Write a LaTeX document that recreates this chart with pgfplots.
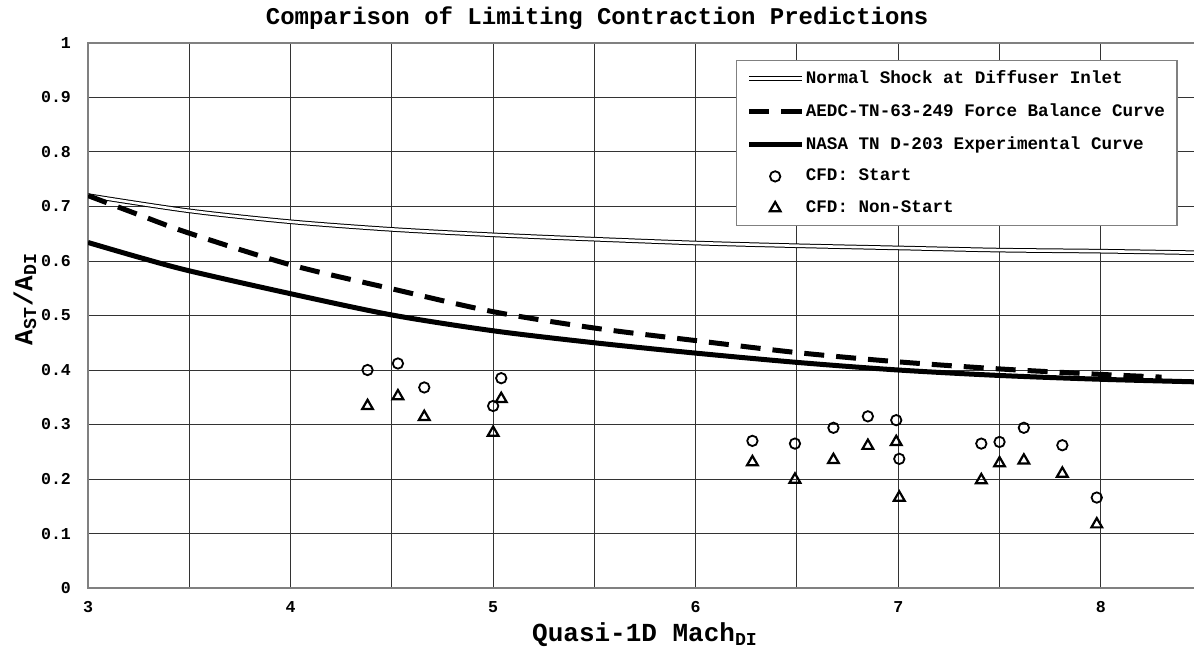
\documentclass[border=0pt]{standalone}
\usepackage{fontspec}
\setmainfont{Liberation Mono}
\usepackage{pgfplots}
\pgfplotsset{compat=1.18}
\begin{document}
\bfseries
\begin{tikzpicture}
\begin{axis}[
    scale only axis,
    width=557pt, height=272.5pt,
    xmin=3, xmax=8.5, ymin=0, ymax=1,
    xtick={3,4,5,6,7,8},
    minor xtick={3.5,4.5,5.5,6.5,7.5,8.5},
    ytick={0,0.1,0.2,0.3,0.4,0.5,0.6,0.7,0.8,0.9,1},
    yticklabels={0,0.1,0.2,0.3,0.4,0.5,0.6,0.7,0.8,0.9,1},
    grid=both,
    major grid style={black!80, line width=0.5pt},
    minor grid style={black!80, line width=0.5pt},
    major tick length=0pt, minor tick length=0pt,
    axis line style={gray, line width=0.7pt},
    /pgf/number format/assume math mode=true,
    ticklabel style={font=\bfseries\fontsize{8.3}{9}\selectfont},
    xticklabel style={yshift=-3pt},
    yticklabel style={xshift=-5pt},
    title={Comparison of Limiting Contraction Predictions},
    every axis title/.style={font=\bfseries\fontsize{12}{14}\selectfont, at={(axis description cs:0.457,1.046)}, anchor=center},
    xlabel={Quasi-1D Mach\textsubscript{DI}},
    ylabel={A\textsubscript{ST}/A\textsubscript{DI}},
    every axis x label/.style={at={(axis description cs:0.5,-0.086)}, anchor=center, font=\bfseries\fontsize{13}{15}\selectfont},
    every axis y label/.style={at={(axis description cs:-0.0566,0.53)}, rotate=90, anchor=center, font=\bfseries\fontsize{13}{15}\selectfont},
    legend cell align=left,
    legend style={at={(axis description cs:0.978,0.969)}, anchor=north east, draw=gray, line width=0.6pt,
        font=\bfseries\fontsize{8.8}{10}\selectfont, row sep=4.5pt, inner xsep=5pt, inner ysep=3pt,
        nodes={inner xsep=1pt}},
    legend image code/.code={\draw[mark repeat=2,mark phase=2,#1] plot coordinates {(0cm,0cm) (0.46cm,0cm) (0.92cm,0cm)};},
]
% normal shock at diffuser inlet
\addplot[black, line width=0.5pt, double=white, double distance=1.3pt, no marks, smooth] coordinates {
(3,0.720) (3.5,0.692) (4,0.672) (4.5,0.658) (5,0.648) (5.5,0.640) (6,0.633)
(6.5,0.628) (7,0.624) (7.5,0.620) (8,0.618) (8.5,0.615)};
\addlegendentry{Normal Shock at Diffuser Inlet}
% force balance
\addplot[black, line width=2.5pt, dash pattern=on 10pt off 6pt, no marks, smooth] coordinates {
(3,0.720) (3.25,0.685) (3.5,0.651) (4,0.593) (4.5,0.549) (5,0.507) (5.5,0.477)
(6,0.454) (6.5,0.432) (7,0.415) (7.5,0.402) (8,0.392) (8.3,0.387)};
\addlegendentry{AEDC-TN-63-249 Force Balance Curve}
% experimental
\addplot[black, line width=2.5pt, no marks, smooth] coordinates {
(3,0.634) (3.25,0.607) (3.5,0.582) (4,0.540) (4.5,0.501) (5,0.472) (5.5,0.450)
(6,0.431) (6.5,0.414) (7,0.400) (7.5,0.390) (8,0.383) (8.5,0.378)};
\addlegendentry{NASA TN D-203 Experimental Curve}
% CFD start
\addplot[only marks, mark=o, mark size=2.6pt, line width=0.9pt, black] coordinates {
(4.38,0.400) (4.53,0.412) (4.66,0.368) (5.00,0.334) (5.04,0.385)
(6.28,0.270) (6.49,0.265) (6.68,0.294) (6.85,0.315) (6.99,0.308) (7.005,0.237)
(7.41,0.265) (7.50,0.268) (7.62,0.294) (7.81,0.262) (7.98,0.166)};
\addlegendentry{CFD: Start}
% CFD non-start
\addplot[only marks, mark=triangle, mark size=3.1pt, line width=1.1pt, black] coordinates {
(4.38,0.334) (4.53,0.352) (4.66,0.314) (5.00,0.285) (5.04,0.347)
(6.28,0.231) (6.49,0.199) (6.68,0.235) (6.85,0.261) (6.99,0.268) (7.005,0.166)
(7.41,0.198) (7.50,0.229) (7.62,0.234) (7.81,0.210) (7.98,0.117)};
\addlegendentry{CFD: Non-Start}
\coordinate (R) at (axis cs:8.46,1);
\end{axis}
\pgfresetboundingbox
\path[use as bounding box] ([shift={(-44pt,-31pt)}]current axis.south west) rectangle ([yshift=21.5pt]R);
\end{tikzpicture}
\end{document}
